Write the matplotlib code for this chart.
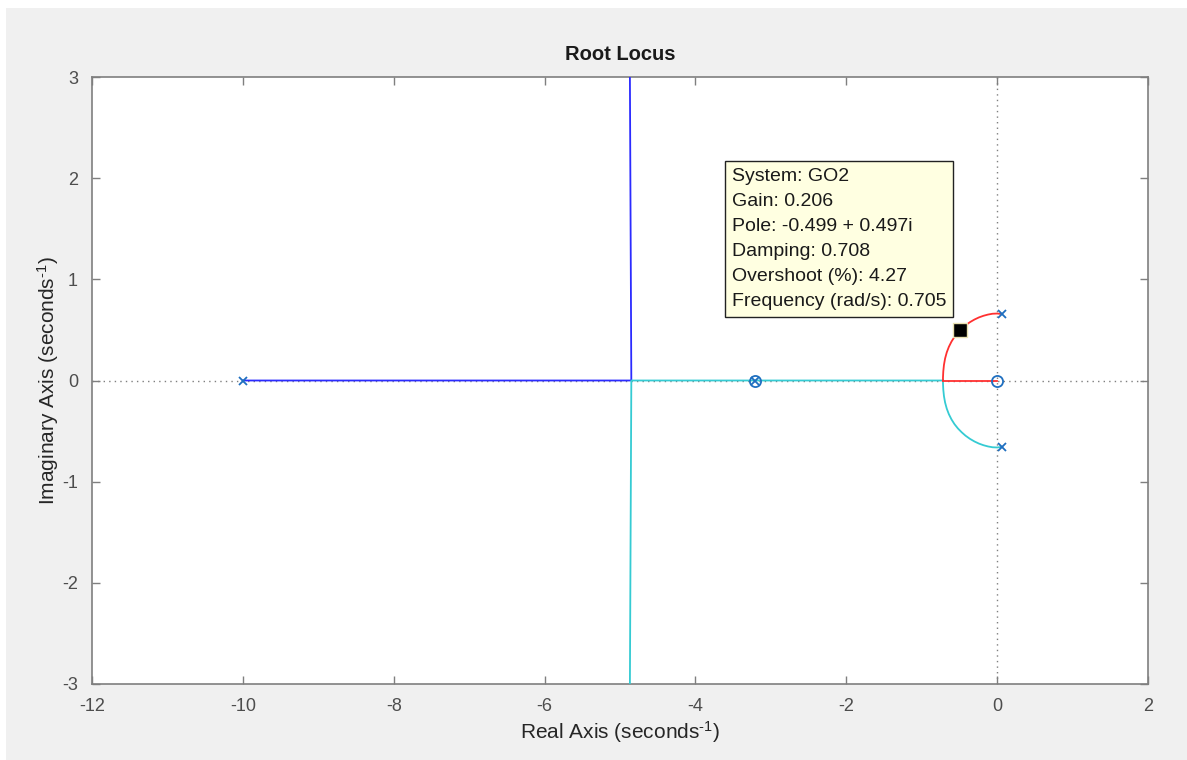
"""Root locus of GO2 with a MATLAB-style data tip."""
import matplotlib.pyplot as plt
from matplotlib.patches import Rectangle

plt.rcParams['font.family'] = ['Liberation Sans', 'DejaVu Sans']
plt.rcParams['axes.unicode_minus'] = False
plt.rcParams['mathtext.fontset'] = 'custom'
plt.rcParams['mathtext.rm'] = 'Liberation Sans'
plt.rcParams['mathtext.default'] = 'regular'

# poles / zeros of the open-loop system
pole_re = [-10.0, -3.21, 0.06, 0.06]
pole_im = [0.0, 0.0, 0.657, -0.657]
zero_re = [-3.21, 0.0]
zero_im = [0.0, 0.0]

# branch 1 (blue): pole at -10 -> breakaway -> up to +inf
blue_re = [-10.0, -4.85, -4.85, -4.87]
blue_im = [0.0, 0.0, 0.02, 3.2]

# complex-pole arc (upper half red, mirrored half cyan)
arc_re = [0.06, 0.0, -0.06, -0.12, -0.18, -0.24, -0.30, -0.36, -0.42, -0.47,
          -0.52, -0.565, -0.605, -0.64, -0.668, -0.69, -0.705, -0.714, -0.718, -0.718]
arc_im = [0.657, 0.662, 0.660, 0.652, 0.640, 0.624, 0.603, 0.577, 0.545, 0.512,
          0.474, 0.432, 0.385, 0.333, 0.278, 0.218, 0.155, 0.09, 0.03, 0.0]

# branch 2 (cyan) tail: real axis to the left, then down to -inf
cyan_tail_re = [-0.718, -4.85, -4.85, -4.87]
cyan_tail_im = [0.0, 0.0, -0.02, -3.2]

# branch 3 (red) tail: real axis to the zero at 0
red_tail_re = [-0.718, 0.0]
red_tail_im = [0.0, 0.0]

tip_re, tip_im = -0.499, 0.497
tip_lines = [
    "System: GO2",
    "Gain: 0.206",
    "Pole: -0.499 + 0.497i",
    "Damping: 0.708",
    "Overshoot (%): 4.27",
    "Frequency (rad/s): 0.705",
]

xticks = [-12, -10, -8, -6, -4, -2, 0, 2]
yticks = [-3, -2, -1, 0, 1, 2, 3]

fig = plt.figure(figsize=(11.87, 7.6), dpi=100)
fig.patch.set_facecolor("white")
fig.patches.append(Rectangle((6 / 1187, 0), 1, 1 - 8 / 760, transform=fig.transFigure,
                             facecolor="#f0f0f0", edgecolor="none", zorder=-10))

ax = fig.add_axes([92 / 1187, 1 - 684 / 760, (1148 - 92) / 1187, (684 - 77) / 760])
ax.set_facecolor("white")

# dotted reference axes
ax.axhline(0, color="#7f7f7f", ls=(0, (1, 3)), lw=1.0, zorder=1)
ax.axvline(0, color="#7f7f7f", ls=(0, (1, 3)), lw=1.0, zorder=1)

blue = "#2b2bff"
cyan = "#35cbd3"
red = "#ff3030"
mk = "#1f6fc0"

ax.plot(blue_re, blue_im, color=blue, lw=1.3, zorder=3)
ax.plot(arc_re, [-v for v in arc_im], color=cyan, lw=1.3, zorder=3)
ax.plot(cyan_tail_re, cyan_tail_im, color=cyan, lw=1.3, zorder=3)
ax.plot(arc_re, arc_im, color=red, lw=1.3, zorder=3)
ax.plot(red_tail_re, red_tail_im, color=red, lw=1.3, zorder=3)

ax.plot(pole_re, pole_im, ls="none", marker="x", ms=6, mew=1.3, color=mk, zorder=4)
ax.plot(zero_re, zero_im, ls="none", marker="o", ms=8, mew=1.3, mfc="none", mec=mk, zorder=4)

# data tip marker and box
ax.plot([tip_re], [tip_im], ls="none", marker="s", ms=9.5, mfc="black", mec="#e8e0b0",
        mew=1.0, zorder=6)
ax.text(-3.513, 1.40, "\n".join(tip_lines), fontsize=14, color="#1a1a1a", va="center",
        ha="left", linespacing=1.62, zorder=7,
        bbox=dict(boxstyle="square,pad=0.35", facecolor="#ffffe1", edgecolor="#222222", lw=1.0))

ax.set_xlim(-12, 2)
ax.set_ylim(-3, 3)
ax.set_xticks(xticks)
ax.set_yticks(yticks)
ax.tick_params(direction="in", length=6, width=1, colors="#7f7f7f", labelcolor="#4d4d4d",
               labelsize=13, top=True, right=True, pad=10)
for s in ax.spines.values():
    s.set_color("#7f7f7f")
    s.set_linewidth(1.2)

ax.set_title("Root Locus", fontsize=14.5, fontweight="bold", color="#1a1a1a", pad=12)
ax.set_xlabel(r"Real Axis (seconds$^{\text{-1}}$)", fontsize=15, color="#262626", labelpad=3)
ax.set_ylabel(r"Imaginary Axis (seconds$^{\text{-1}}$)", fontsize=15, color="#262626", labelpad=1)

fig.savefig("out.png", dpi=100, facecolor=fig.get_facecolor())
